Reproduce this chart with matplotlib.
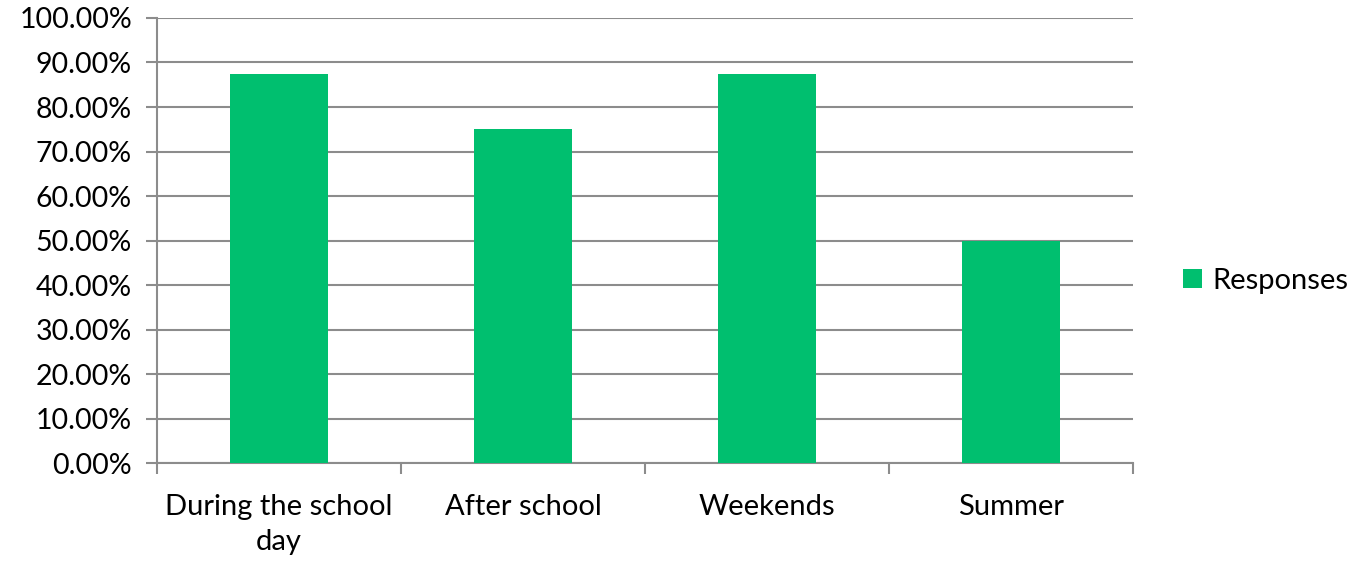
import matplotlib.pyplot as plt
from matplotlib.ticker import FuncFormatter, MultipleLocator

plt.rcParams['font.family'] = ['Lato', 'DejaVu Sans']

categories = ['During the school\nday', 'After school', 'Weekends', 'Summer']
responses = [87.5, 75.0, 87.5, 50.0]

bar_color = '#00BF6F'
grid_color = '#8C8C8C'

fig = plt.figure(figsize=(13.55, 5.62), dpi=100)
ax = fig.add_axes([0.1159, 0.176, 0.7203, 0.792])

x = range(len(categories))
ax.bar(x, responses, width=0.4, color=bar_color, label='Responses', zorder=3)

ax.set_xlim(-0.5, len(categories) - 0.5)
ax.set_ylim(0, 100)
ax.yaxis.set_major_locator(MultipleLocator(10))
ax.yaxis.set_major_formatter(FuncFormatter(lambda v, p: f'{v:.2f}%'))
ax.grid(axis='y', color=grid_color, linewidth=1.5, zorder=0)

ax.set_xticks([i + 0.5 for i in range(-1, len(categories))], minor=False)
ax.set_xticklabels([])
ax.set_xticks(list(x), minor=True)
ax.set_xticklabels(categories, minor=True, fontsize=21, linespacing=1.45)
ax.tick_params(axis='x', which='minor', length=0, pad=22)
ax.tick_params(axis='x', which='major', length=8, width=1.5, color=grid_color)
ax.tick_params(axis='y', length=8, width=1.5, color=grid_color, labelsize=20.5, pad=10)

for side in ['top', 'right']:
    ax.spines[side].set_visible(False)
for side in ['left', 'bottom']:
    ax.spines[side].set_color(grid_color)
    ax.spines[side].set_linewidth(1.5)

ax.legend(loc='center left', bbox_to_anchor=(0.873, 0.5), bbox_transform=fig.transFigure,
          frameon=False, fontsize=21, handlelength=0.65, handleheight=0.65,
          handletextpad=0.35, borderaxespad=0, borderpad=0)

plt.savefig('out.png', dpi=100)
